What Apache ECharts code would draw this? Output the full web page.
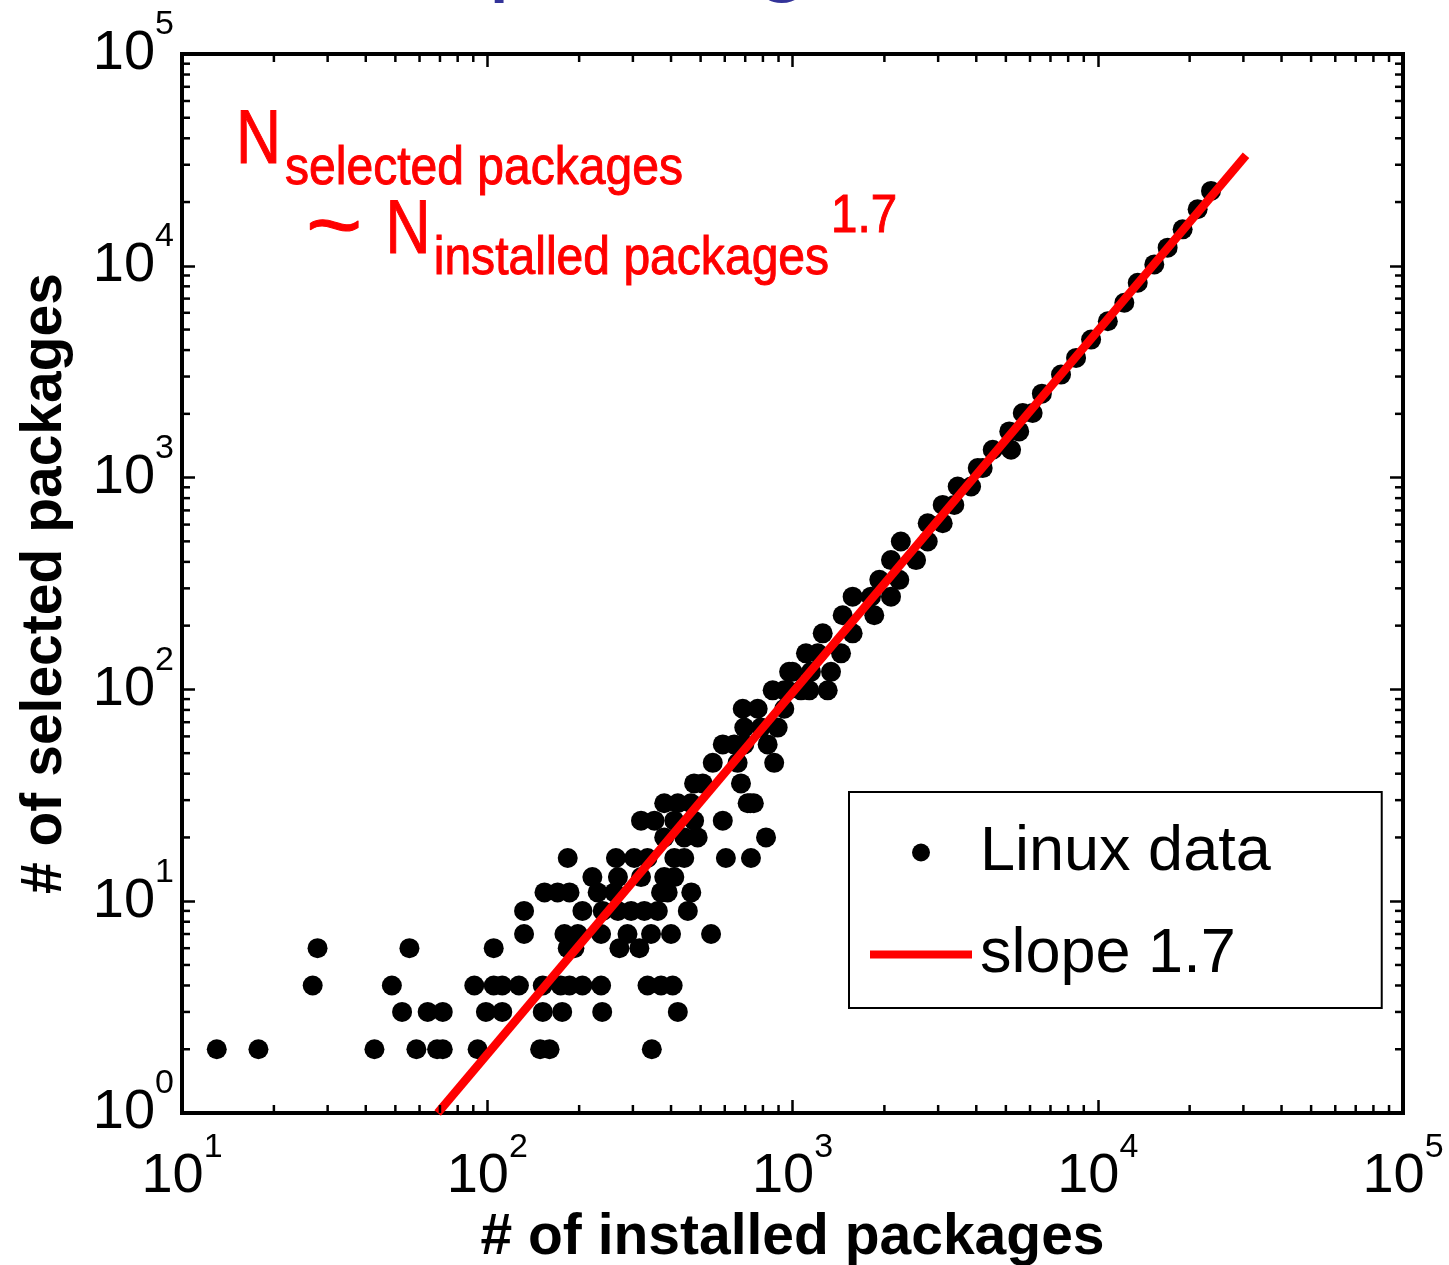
<!DOCTYPE html>
<html><head><meta charset="utf-8">
<script src="https://cdn.jsdelivr.net/npm/echarts@6/dist/echarts.min.js"></script>
<style>html,body{margin:0;padding:0;background:#fff}#c{width:1449px;height:1265px}</style>
</head><body><div id="c"></div><script>
// ---- data ----
const installed = [
  13, 17.8, 42.7, 58.6, 68.5, 71.5, 93, 149, 160, 346,
  52.6, 63.8, 71.5, 99, 112, 152, 176, 238, 421,
  26.8, 48.7, 90.7, 105, 112, 127, 152, 174, 186, 205, 236, 335, 371, 405,
  27.8, 55.6, 105, 183.5, 193, 271, 315,
  132, 179, 198, 236, 288, 344, 400, 541,
  132, 205, 239, 268, 296, 327, 362, 454,
  154, 170, 186, 230, 261, 371, 390, 466,
  221, 268, 319, 380, 410,
  183.5, 264, 303, 335, 410, 442, 605, 731,
  380, 442, 489, 819,
  319, 353, 410, 476, 591,
  380, 421, 465, 713, 727, 747,
  476, 508, 678,
  548, 661, 871,
  591, 644, 695, 829,
  695, 788, 894,
  687, 769, 940,
  861, 940, 964, 1066, 1135, 1304,
  975, 1000, 1149, 1337,
  1107, 1210, 1442,
  1256, 1574,
  1460, 1853,
  1574, 1808, 2102,
  1925, 2238,
  2102, 2540,
  2264, 2773,
  2773, 3105,
  3105, 3389,
  3477, 3846,
  4044, 4198,
  4528, 5200,
  5130, 5530,
  5680, 6120,
  6560, 7580, 8490, 9510, 10790, 12220, 13520, 15320, 16940, 18970, 21240, 23500
];
const selected = [
  2, 2, 2, 2, 2, 2, 2, 2, 2, 2,
  3, 3, 3, 3, 3, 3, 3, 3, 3,
  4, 4, 4, 4, 4, 4, 4, 4, 4, 4, 4, 4, 4, 4,
  6, 6, 6, 6, 6, 6, 6,
  7, 7, 7, 7, 7, 7, 7, 7,
  9, 9, 9, 9, 9, 9, 9, 9,
  11, 11, 11, 11, 11, 11, 11, 11,
  13, 13, 13, 13, 13,
  16, 16, 16, 16, 16, 16, 16, 16,
  20, 20, 20, 20,
  24, 24, 24, 24, 24,
  29, 29, 29, 29, 29, 29,
  36, 36, 36,
  45, 45, 45,
  55, 55, 55, 55,
  66, 66, 66,
  81, 81, 81,
  99, 99, 99, 99, 99, 99,
  121, 121, 121, 121,
  148, 148, 148,
  184, 184,
  224, 224,
  274, 274, 274,
  329, 329,
  408, 408,
  499, 499,
  609, 609,
  743, 743,
  908, 908,
  1109, 1109,
  1354, 1354,
  1652, 1652,
  2018, 2018,
  2490, 3064, 3675, 4485, 5475, 6690, 8320, 10150, 12180, 14860, 18490, 22570
];
// fitted power law (slope 1.7), end points
const fitInstalled = [68.8, 30600];
const fitSelected = [1, 33300];

const xRange = [10, 100000];
const yRange = [1, 100000];
const xMinorTicks = [20,30,40,50,60,70,80,90, 200,300,400,500,600,700,800,900,
  2000,3000,4000,5000,6000,7000,8000,9000, 20000,30000,40000,50000,60000,70000,80000,90000];
const yMinorTicks = [2,3,4,5,6,7,8,9, 20,30,40,50,60,70,80,90, 200,300,400,500,600,700,800,900,
  2000,3000,4000,5000,6000,7000,8000,9000, 20000,30000,40000,50000,60000,70000,80000,90000];

const seriesNames = ['Linux data', 'slope 1.7'];
const xTitle = '# of installed packages';
const yTitle = '# of selected packages';

// ---- chart ----
const FONT = "'Liberation Sans', Arial, Helvetica, sans-serif";
const chart = echarts.init(document.getElementById('c'), null, {renderer: 'canvas'});

const scatterData = installed.map((x, i) => [x, selected[i]]);
const fitData = fitInstalled.map((x, i) => [x, fitSelected[i]]);

const supRich = {
  b: {fontSize: 56, lineHeight: 74, verticalAlign: 'bottom', fontFamily: FONT, color: '#000'},
  s: {fontSize: 34, verticalAlign: 'top', fontFamily: FONT, color: '#000'}
};
const powLabel = v => '{b|10}{s|' + Math.round(Math.log10(v)) + '}';

const tickStyle = {show: true, inside: true, length: 13, lineStyle: {color: '#000', width: 2.5}};

function minorTicks(isX) {
  return function (params, api) {
    const L = 8, W = 2.5;
    const st = {stroke: '#000', lineWidth: W};
    if (isX) {
      const v = api.value(0);
      const b = api.coord([v, yRange[0]]);
      const t = api.coord([v, yRange[1]]);
      return {type: 'group', children: [
        {type: 'line', shape: {x1: b[0], y1: b[1], x2: b[0], y2: b[1] - L}, style: st},
        {type: 'line', shape: {x1: t[0], y1: t[1], x2: t[0], y2: t[1] + L}, style: st}
      ]};
    } else {
      const v = api.value(1);
      const l = api.coord([xRange[0], v]);
      const r = api.coord([xRange[1], v]);
      return {type: 'group', children: [
        {type: 'line', shape: {x1: l[0], y1: l[1], x2: l[0] + L, y2: l[1]}, style: st},
        {type: 'line', shape: {x1: r[0], y1: r[1], x2: r[0] - L, y2: r[1]}, style: st}
      ]};
    }
  };
}

function redText(text, x, y, size, sx) {
  return {type: 'text', x: x, y: y, scaleX: sx, silent: true, z: 50,
    style: {text: text, fill: '#ff0000', stroke: '#ff0000', lineWidth: 1, fontSize: size, fontFamily: FONT,
      align: 'left', textAlign: 'left', verticalAlign: 'middle', textVerticalAlign: 'middle'}};
}

const option = {
  backgroundColor: '#ffffff',
  animation: false,
  grid: {left: 182, top: 54, right: 46, bottom: 152, containLabel: false, outerBoundsMode: 'none',
    show: true, borderColor: '#000', borderWidth: 4, backgroundColor: 'transparent'},
  legend: {
    orient: 'vertical', left: 849, top: 792,
    data: [
      {name: seriesNames[0], icon: 'circle'},
      {name: seriesNames[1], icon: 'path://M0 0H102V8H0Z', itemStyle: {color: '#ff0000'}}
    ],
    itemWidth: 102, itemHeight: 18, itemGap: 39,
    padding: [29, 111, 22, 21],
    borderColor: '#000', borderWidth: 2, backgroundColor: '#fff',
    selectedMode: false,
    textStyle: {fontSize: 63, lineHeight: 62, fontFamily: FONT, color: '#000', padding: [0, 0, 0, 3]}
  },
  xAxis: [
    {type: 'log', logBase: 10, min: xRange[0], max: xRange[1], position: 'bottom',
      axisLine: {show: false, onZero: false}, axisTick: tickStyle, splitLine: {show: false},
      axisLabel: {show: true, margin: 18, formatter: powLabel, rich: supRich, showMinLabel: true, showMaxLabel: true},
      name: xTitle, nameLocation: 'middle', nameGap: 94,
      nameTextStyle: {fontSize: 57, fontWeight: 'bold', fontFamily: FONT, color: '#000'}},
    {type: 'log', logBase: 10, min: xRange[0], max: xRange[1], position: 'top',
      axisLine: {show: false, onZero: false}, axisTick: tickStyle, splitLine: {show: false},
      axisLabel: {show: false}}
  ],
  yAxis: [
    {type: 'log', logBase: 10, min: yRange[0], max: yRange[1], position: 'left',
      axisLine: {show: false, onZero: false}, axisTick: tickStyle, splitLine: {show: false},
      axisLabel: {show: true, margin: 8, formatter: powLabel, rich: supRich, padding: [0, 0, 18, 0], showMinLabel: true, showMaxLabel: true},
      name: yTitle, nameLocation: 'middle', nameGap: 108, nameRotate: 90,
      nameTextStyle: {fontSize: 57, fontWeight: 'bold', fontFamily: FONT, color: '#000'}},
    {type: 'log', logBase: 10, min: yRange[0], max: yRange[1], position: 'right',
      axisLine: {show: false, onZero: false}, axisTick: tickStyle, splitLine: {show: false},
      axisLabel: {show: false}}
  ],
  series: [
    {name: seriesNames[0], type: 'scatter', xAxisIndex: 0, yAxisIndex: 0, data: scatterData,
      symbol: 'circle', symbolSize: 20, itemStyle: {color: '#000', opacity: 1}, z: 3, silent: true},
    {name: seriesNames[1], type: 'line', xAxisIndex: 0, yAxisIndex: 0, data: fitData,
      showSymbol: false, symbol: 'none', lineStyle: {color: '#ff0000', width: 8.5, cap: 'butt'},
      itemStyle: {color: '#ff0000'}, z: 4, silent: true, clip: false},
    {type: 'custom', xAxisIndex: 0, yAxisIndex: 0, renderItem: minorTicks(true),
      data: xMinorTicks.map(v => [v, yRange[0]]), silent: true, z: 5, clip: false},
    {type: 'custom', xAxisIndex: 0, yAxisIndex: 0, renderItem: minorTicks(false),
      data: yMinorTicks.map(v => [xRange[0], v]), silent: true, z: 5, clip: false}
  ],
  graphic: [
    // clipped title at the very top
    {type: 'text', x: 488, y: -46, silent: true,
      style: {text: 'packages', fill: '#333399', fontSize: 100, fontFamily: FONT,
        align: 'left', textAlign: 'left', verticalAlign: 'middle', textVerticalAlign: 'middle'}},
    redText('N', 236, 142, 76, 0.82),
    redText('selected packages', 285, 169.5, 54, 0.89),
    redText('~', 306, 230.6, 92, 1.05),
    redText('N', 385.5, 232, 76, 0.82),
    redText('installed packages', 433.7, 259.5, 54, 0.89),
    redText('1.7', 831, 217.6, 54, 0.88)
  ]
};
chart.setOption(option);
</script></body></html>
